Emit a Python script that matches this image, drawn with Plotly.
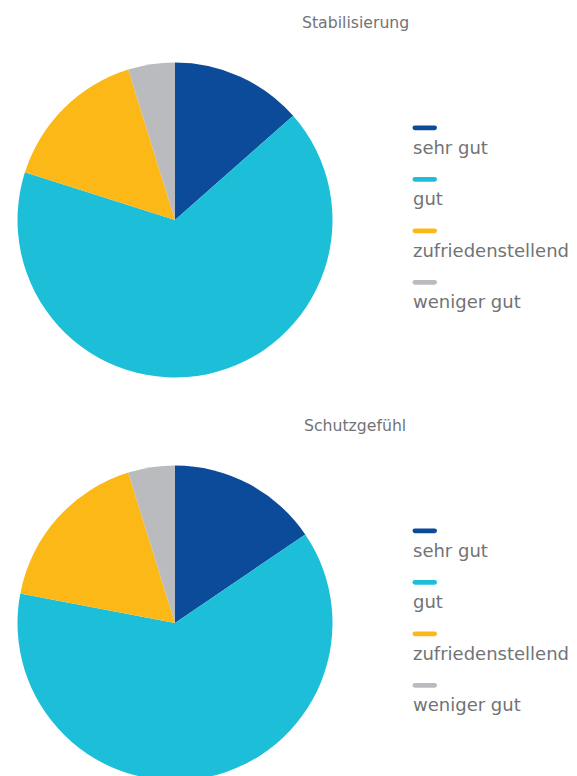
import plotly.graph_objects as go

W, H = 577, 782

categories = ["sehr gut", "gut", "zufriedenstellend", "weniger gut"]
colors = ["#0c4b99", "#1dbfd8", "#fbb817", "#babbbf"]
titles = ["Stabilisierung", "Schutzgefühl"]
values_stabilisierung = [13.5, 66.4, 15.3, 4.8]
values_schutzgefuehl = [15.5, 62.5, 17.2, 4.8]
series = [values_stabilisierung, values_schutzgefuehl]

FONT = "'DejaVu Sans', 'Open Sans', sans-serif"
TEXT_GRAY = "#727376"


def px_x(p):
    return p / W


def px_y(p):
    return 1 - p / H


fig = go.Figure()

OFFSET = 403
for k, vals in enumerate(series):
    top = 62.5 + OFFSET * k
    bottom = top + 315
    fig.add_trace(go.Pie(
        labels=categories,
        values=vals,
        sort=False,
        direction="clockwise",
        rotation=0,
        marker=dict(colors=colors, line=dict(width=0)),
        textinfo="none",
        hoverinfo="label+percent",
        showlegend=False,
        domain=dict(x=[px_x(17.5), px_x(332.5)], y=[px_y(bottom), px_y(top)]),
    ))
    # title
    fig.add_annotation(
        x=px_x(355), y=px_y(22.5 + OFFSET * k), xref="paper", yref="paper",
        text=titles[k], showarrow=False, xanchor="center", yanchor="middle",
        font=dict(family=FONT, size=15.7, color=TEXT_GRAY),
    )
    # legend
    for i, (cat, col) in enumerate(zip(categories, colors)):
        yc = 127.8 + 51.5 * i + OFFSET * k
        x0, x1 = 412.5, 437
        h = 2.4
        path = (
            f"M {px_x(x0 + h)} {px_y(yc - h)} L {px_x(x1 - h)} {px_y(yc - h)} "
            f"Q {px_x(x1)} {px_y(yc - h)} {px_x(x1)} {px_y(yc)} "
            f"Q {px_x(x1)} {px_y(yc + h)} {px_x(x1 - h)} {px_y(yc + h)} "
            f"L {px_x(x0 + h)} {px_y(yc + h)} "
            f"Q {px_x(x0)} {px_y(yc + h)} {px_x(x0)} {px_y(yc)} "
            f"Q {px_x(x0)} {px_y(yc - h)} {px_x(x0 + h)} {px_y(yc - h)} Z"
        )
        fig.add_shape(type="path", path=path, xref="paper", yref="paper",
                      fillcolor=col, line=dict(width=0))
        fig.add_annotation(
            x=px_x(x0 - 1.5), y=px_y(yc + 19.5), xref="paper", yref="paper",
            text=cat, showarrow=False, xanchor="left", yanchor="middle",
            font=dict(family=FONT, size=18, color=TEXT_GRAY),
        )

fig.update_layout(
    width=W, height=H,
    margin=dict(l=0, r=0, t=0, b=0),
    paper_bgcolor="white",
    plot_bgcolor="white",
)

fig.write_html(
    "out.html",
    config={"displayModeBar": False},
    post_script="document.body.style.margin='0';document.body.style.overflow='hidden';"
                "document.documentElement.style.overflow='hidden';",
)
